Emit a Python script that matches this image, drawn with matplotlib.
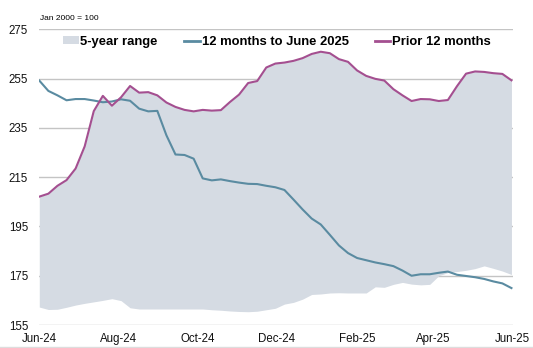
import numpy as np
import pandas as pd
import matplotlib
matplotlib.use("Agg")
import matplotlib.pyplot as plt
import matplotlib.dates as mdates
from matplotlib.patches import Patch
from matplotlib.lines import Line2D

plt.rcParams["font.family"] = ["Liberation Sans", "DejaVu Sans"]

# Weekly observations, index Jan 2000 = 100
dates = pd.date_range("2024-06-01", periods=53, freq="7D")

current_12m = [
    254.2, 250.0, 248.2, 246.2, 246.7, 246.7, 246.1, 245.4, 245.7, 246.6,
    246.0, 242.8, 241.7, 241.9, 232.0, 224.2, 224.0, 222.5, 214.5, 213.7,
    214.1, 213.4, 212.8, 212.3, 212.2, 211.5, 210.9, 209.8, 205.9, 201.9,
    198.2, 195.8, 191.6, 187.3, 184.2, 182.2, 181.3, 180.4, 179.7, 178.9,
    177.1, 175.0, 175.6, 175.6, 176.2, 176.7, 175.4, 174.9, 174.4, 173.7,
    172.7, 171.9, 170.0,
]

prior_12m = [
    207.1, 208.3, 211.5, 213.8, 218.5, 227.5, 241.8, 248.0, 244.0, 247.4,
    252.0, 249.3, 249.5, 248.2, 245.3, 243.5, 242.3, 241.7, 242.3, 242.0,
    242.2, 245.5, 248.5, 253.2, 254.0, 259.5, 261.1, 261.5, 262.2, 263.3,
    265.0, 265.9, 265.3, 262.9, 261.8, 258.3, 256.1, 254.9, 254.2, 250.7,
    248.2, 245.9, 246.7, 246.6, 245.9, 246.3, 251.9, 257.0, 257.9, 257.7,
    257.2, 256.9, 254.3,
]

range_low = [
    162.3, 161.3, 161.4, 162.2, 163.1, 163.8, 164.4, 165.0, 165.7, 164.9,
    162.0, 161.5, 161.5, 161.5, 161.5, 161.5, 161.5, 161.5, 161.5, 161.2,
    161.0, 160.7, 160.5, 160.4, 160.6, 161.2, 161.8, 163.5, 164.2, 165.5,
    167.4, 167.6, 168.0, 168.1, 168.0, 168.0, 168.0, 170.5, 170.3, 171.5,
    172.3, 171.6, 171.3, 171.5, 175.0, 176.3, 176.7, 177.2, 177.9, 179.0,
    178.0, 176.9, 175.5,
]
range_high = prior_12m

y_ticks = [155, 175, 195, 215, 235, 255, 275]
x_ticks = pd.date_range("2024-06-01", "2025-06-01", freq="2MS")

FILL = "#d5dbe3"
BLUE = "#5a8ba1"
PURPLE = "#a44f90"
GRID = "#c4c4c4"

fig = plt.figure(figsize=(5.33, 3.48), dpi=100)
ax = fig.add_axes([0.0737, 0.066, 0.8883, 0.8498])

ax.fill_between(dates, range_low, range_high, color=FILL, lw=0, zorder=1)
ax.plot(dates, current_12m, color=BLUE, lw=1.5, zorder=3)
ax.plot(dates, prior_12m, color=PURPLE, lw=1.5, zorder=4)

ax.set_ylim(155, 275)
ax.set_xlim(pd.Timestamp("2024-06-01"), pd.Timestamp("2025-06-01"))
ax.set_yticks(y_ticks)
ax.set_xticks(x_ticks)
ax.xaxis.set_major_formatter(mdates.DateFormatter("%b-%y"))
ax.grid(axis="y", color=GRID, lw=1.0, zorder=0)
ax.set_axisbelow(True)
for s in ax.spines.values():
    s.set_visible(False)
ax.tick_params(axis="both", length=0, labelsize=8.3, colors="#111111")
ax.tick_params(axis="y", pad=8)
ax.tick_params(axis="x", pad=6)

fig.text(0.075, 0.947, "Jan 2000 = 100", fontsize=6, ha="left", va="center")

handles = [
    Patch(facecolor=FILL, edgecolor="none", label="5-year range"),
    Line2D([], [], color=BLUE, lw=2, label="12 months to June 2025"),
    Line2D([], [], color=PURPLE, lw=2, label="Prior 12 months"),
]
ax.legend(handles=handles, ncol=3, loc="center", bbox_to_anchor=(0.502, 0.958),
          frameon=False, prop={"weight": "bold", "size": 9.4},
          handlelength=1.2, handleheight=0.5, handletextpad=0.15,
          columnspacing=2.0, borderaxespad=0)

fig.add_artist(Line2D([0, 1], [0.003, 0.003], color="#dddddd", lw=1,
                      transform=fig.transFigure))

fig.savefig("out.png", dpi=100)
